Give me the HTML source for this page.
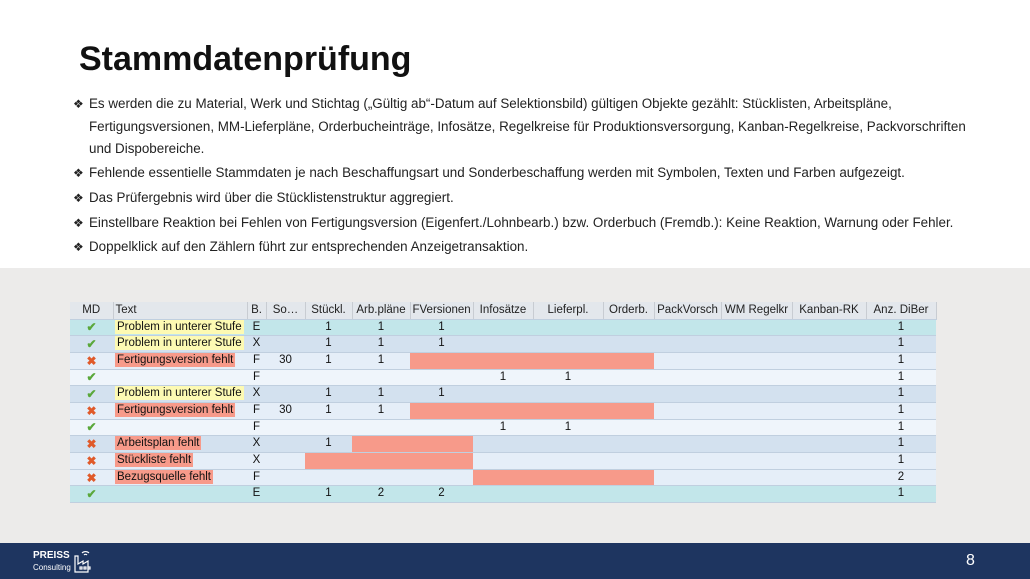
<!DOCTYPE html>
<html><head><meta charset="utf-8"><style>
*{margin:0;padding:0;box-sizing:border-box}
body{width:1030px;height:579px;overflow:hidden;position:relative;background:#fff;font-family:"Liberation Sans",sans-serif}
#bg{position:absolute;left:0;top:268px;width:1030px;height:275px;background:#ecebea}
#foot{position:absolute;left:0;top:543px;width:1030px;height:36px;background:#1e3560;color:#fff}
h1{position:absolute;left:79px;top:40px;font-size:34px;font-weight:bold;color:#111;letter-spacing:0px}
.b{position:absolute;left:73px;font-size:13.4px;color:#222;line-height:22.5px}
.b span{position:absolute;left:0;font-size:12px}
.b div{margin-left:16px;width:900px}
table{position:absolute;left:70px;top:302px;width:866px;border-collapse:collapse;font-size:11.5px;table-layout:fixed}
td,th{padding:0 2px;height:16.7px;line-height:1;vertical-align:middle;white-space:nowrap;overflow:hidden;text-align:center;border-bottom:1px solid #c0cfdf}
th{background:#e3e7ec;font-weight:normal;color:#222;border-right:1px solid #c8ccd2;height:17px}
td{color:#111}
.c{background:#c2e6ea}.d{background:#d3e1ef}.l{background:#e5eef8}.w{background:#eff5fb}
.r{background:#f79a8a}
.t{text-align:left;padding:0 2px}
.y{background:#fdfab3;padding:1px 2px}
.rt{background:#f79a8a;padding:1px 2px}
.ok{color:#5aa83a;font-weight:bold;font-size:12px}.x{color:#e05a2a;font-weight:bold;font-size:12px}
</style></head><body>
<div id="bg"></div>
<h1>Stammdatenprüfung</h1>
<div class="b" style="top:93px"><span>❖</span><div>Es werden die zu Material, Werk und Stichtag („Gültig ab“-Datum auf Selektionsbild) gültigen Objekte gezählt: Stücklisten, Arbeitspläne, Fertigungsversionen, MM-Lieferpläne, Orderbucheinträge, Infosätze, Regelkreise für Produktionsversorgung, Kanban-Regelkreise, Packvorschriften und Dispobereiche.</div></div>
<div class="b" style="top:162px"><span>❖</span><div>Fehlende essentielle Stammdaten je nach Beschaffungsart und Sonderbeschaffung werden mit Symbolen, Texten und Farben aufgezeigt.</div></div>
<div class="b" style="top:187px"><span>❖</span><div>Das Prüfergebnis wird über die Stücklistenstruktur aggregiert.</div></div>
<div class="b" style="top:212px"><span>❖</span><div>Einstellbare Reaktion bei Fehlen von Fertigungsversion (Eigenfert./Lohnbearb.) bzw. Orderbuch (Fremdb.): Keine Reaktion, Warnung oder Fehler.</div></div>
<div class="b" style="top:236px"><span>❖</span><div>Doppelklick auf den Zählern führt zur entsprechenden Anzeigetransaktion.</div></div>
<table>
<colgroup><col style="width:43px"><col style="width:134px"><col style="width:19px"><col style="width:39px"><col style="width:47px"><col style="width:58px"><col style="width:63px"><col style="width:60px"><col style="width:70px"><col style="width:51px"><col style="width:67px"><col style="width:71px"><col style="width:74px"><col style="width:70px"></colgroup>
<tr><th>MD</th><th class="t">Text</th><th>B.</th><th>So…</th><th>Stückl.</th><th>Arb.pläne</th><th>FVersionen</th><th>Infosätze</th><th>Lieferpl.</th><th>Orderb.</th><th>PackVorsch</th><th>WM Regelkr</th><th>Kanban-RK</th><th>Anz. DiBer</th></tr>
<tr class="c"><td class="ok">✔</td><td class="t"><span class="y">Problem in unterer Stufe</span></td><td>E</td><td></td><td>1</td><td>1</td><td>1</td><td></td><td></td><td></td><td></td><td></td><td></td><td>1</td></tr>
<tr class="d"><td class="ok">✔</td><td class="t"><span class="y">Problem in unterer Stufe</span></td><td>X</td><td></td><td>1</td><td>1</td><td>1</td><td></td><td></td><td></td><td></td><td></td><td></td><td>1</td></tr>
<tr class="l"><td class="x">✖</td><td class="t"><span class="rt">Fertigungsversion fehlt</span></td><td>F</td><td>30</td><td>1</td><td>1</td><td class="r"></td><td class="r"></td><td class="r"></td><td class="r"></td><td></td><td></td><td></td><td>1</td></tr>
<tr class="w"><td class="ok">✔</td><td></td><td>F</td><td></td><td></td><td></td><td></td><td>1</td><td>1</td><td></td><td></td><td></td><td></td><td>1</td></tr>
<tr class="d"><td class="ok">✔</td><td class="t"><span class="y">Problem in unterer Stufe</span></td><td>X</td><td></td><td>1</td><td>1</td><td>1</td><td></td><td></td><td></td><td></td><td></td><td></td><td>1</td></tr>
<tr class="l"><td class="x">✖</td><td class="t"><span class="rt">Fertigungsversion fehlt</span></td><td>F</td><td>30</td><td>1</td><td>1</td><td class="r"></td><td class="r"></td><td class="r"></td><td class="r"></td><td></td><td></td><td></td><td>1</td></tr>
<tr class="w"><td class="ok">✔</td><td></td><td>F</td><td></td><td></td><td></td><td></td><td>1</td><td>1</td><td></td><td></td><td></td><td></td><td>1</td></tr>
<tr class="d"><td class="x">✖</td><td class="t"><span class="rt">Arbeitsplan fehlt</span></td><td>X</td><td></td><td>1</td><td class="r"></td><td class="r"></td><td></td><td></td><td></td><td></td><td></td><td></td><td>1</td></tr>
<tr class="l"><td class="x">✖</td><td class="t"><span class="rt">Stückliste fehlt</span></td><td>X</td><td></td><td class="r"></td><td class="r"></td><td class="r"></td><td></td><td></td><td></td><td></td><td></td><td></td><td>1</td></tr>
<tr class="l"><td class="x">✖</td><td class="t"><span class="rt">Bezugsquelle fehlt</span></td><td>F</td><td></td><td></td><td></td><td></td><td class="r"></td><td class="r"></td><td class="r"></td><td></td><td></td><td></td><td>2</td></tr>
<tr class="c"><td class="ok">✔</td><td></td><td>E</td><td></td><td>1</td><td>2</td><td>2</td><td></td><td></td><td></td><td></td><td></td><td></td><td>1</td></tr>
</table>
<div id="foot">
<div style="position:absolute;left:33px;top:7px;font-size:10px;font-weight:bold">PREISS</div>
<div style="position:absolute;left:33px;top:20px;font-size:8px">Consulting</div>
<svg style="position:absolute;left:73px;top:5px" width="22" height="26" viewBox="0 0 22 26" fill="none" stroke="#fff" stroke-width="1.2"><path d="M2 24V8h3v8l5-3v3l5-3v11z"/><path d="M9 5a5 5 0 0 1 7 0M11 7a2 2 0 0 1 3 0"/><rect x="7" y="19" width="2" height="2"/><rect x="11" y="19" width="2" height="2"/><rect x="15" y="19" width="2" height="2"/></svg>
<div style="position:absolute;left:966px;top:9px;font-size:16px">8</div>
</div>
</body></html>
